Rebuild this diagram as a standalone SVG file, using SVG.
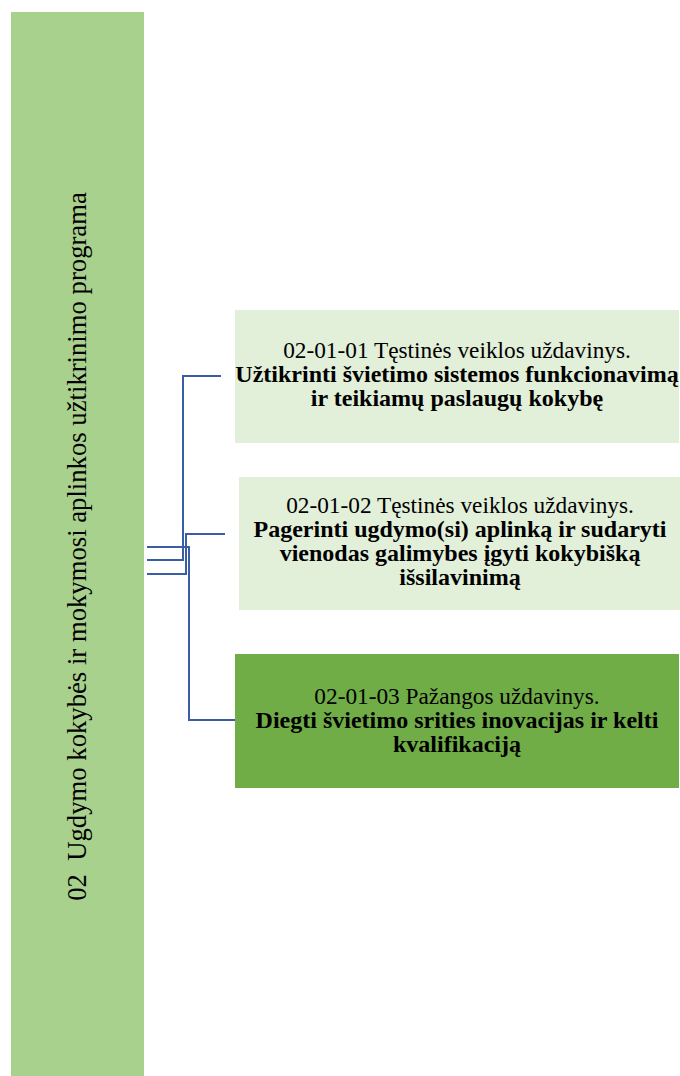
<svg xmlns="http://www.w3.org/2000/svg" width="680" height="1076" viewBox="0 0 680 1076">
<style>
.t{font-family:"Liberation Serif","Times New Roman",serif;font-size:23.3px;fill:#000;text-anchor:middle}
.b{font-weight:bold;font-size:24px}
.c{fill:none;stroke:#3a5da5;stroke-width:2}
</style>
<rect width="680" height="1076" fill="#ffffff"/>
<g id="program">
<rect x="11" y="12" width="133" height="1064" fill="#a9d18e"/>
<text class="t" style="font-size:26.7px" transform="translate(86,546.5) rotate(-90)" xml:space="preserve">02  Ugdymo kokybės ir mokymosi aplinkos užtikrinimo programa</text>
</g>
<g id="connectors">
<polyline class="c" points="147,560 183,560 183,376 221,376"/>
<polyline class="c" points="147,574 186,574 186,534 225,534"/>
<polyline class="c" points="147,547 189,547 189,720 235,720"/>
</g>
<g id="task1">
<rect x="235" y="310" width="444" height="133" fill="#e2efd9"/>
<text class="t" x="457" y="358">02-01-01 Tęstinės veiklos uždavinys.</text>
<text class="t b" x="457" y="382">Užtikrinti švietimo sistemos funkcionavimą</text>
<text class="t b" x="457" y="406">ir teikiamų paslaugų kokybę</text>
</g>
<g id="task2">
<rect x="239" y="477" width="441" height="133" fill="#e2efd9"/>
<text class="t" x="460" y="513">02-01-02 Tęstinės veiklos uždavinys.</text>
<text class="t b" x="460" y="537">Pagerinti ugdymo(si) aplinką ir sudaryti</text>
<text class="t b" x="460" y="561">vienodas galimybes įgyti kokybišką</text>
<text class="t b" x="460" y="585">išsilavinimą</text>
</g>
<g id="task3">
<rect x="235" y="654" width="444" height="134" fill="#70ad47"/>
<text class="t" x="457" y="704">02-01-03 Pažangos uždavinys.</text>
<text class="t b" x="457" y="728">Diegti švietimo srities inovacijas ir kelti</text>
<text class="t b" x="457" y="752">kvalifikaciją</text>
</g>
</svg>
